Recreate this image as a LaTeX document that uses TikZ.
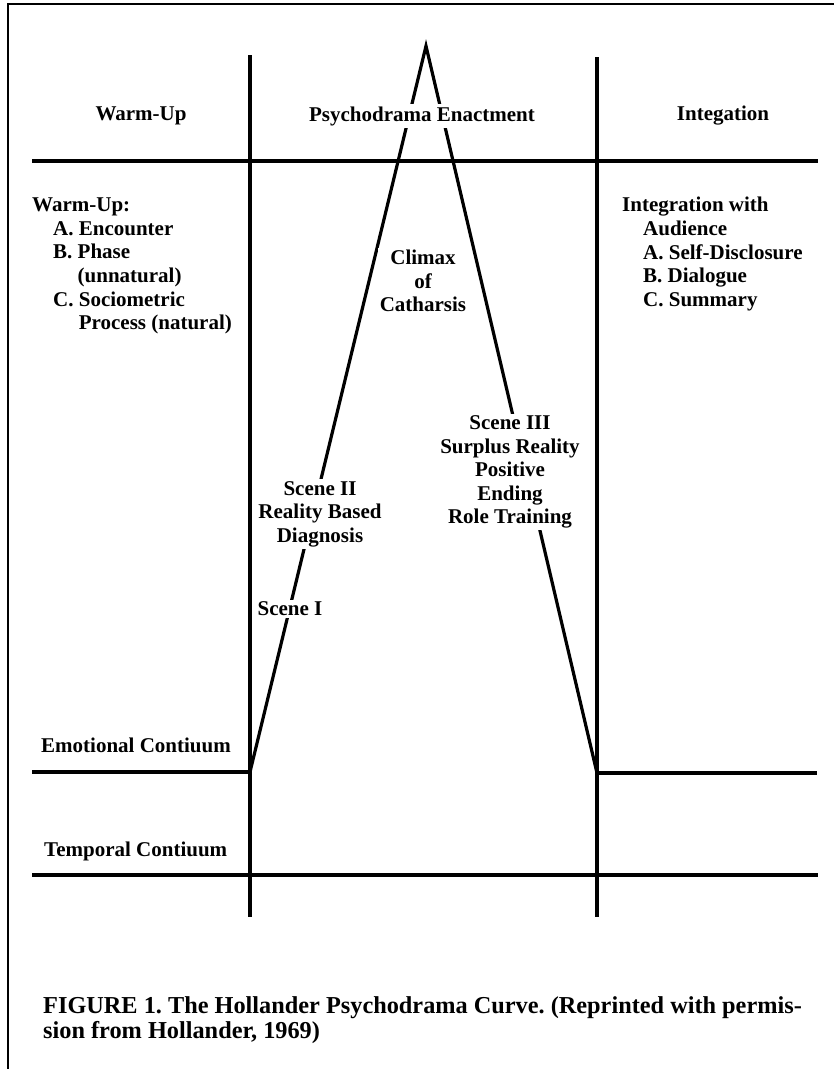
\documentclass[tikz,border=0pt]{standalone}
\usepackage{fontspec}
\setmainfont{Liberation Serif}
\usetikzlibrary{positioning}
\frenchspacing

\tikzset{
	txt/.style={font=\fontsize{21}{23.6}\selectfont\bfseries, inner sep=2pt},
	mask/.style={txt, fill=white, align=center},
	rule/.style={line width=3.2pt},
	frame/.style={line width=1.4pt}
}

\begin{document}
\begin{tikzpicture}[x=1pt, y=-1pt]
	\useasboundingbox (0,0) rectangle (834,1069);
	% page frame
	\draw [frame] (834,4) -- (8,4) -- (8,1069);
	% grid
	\coordinate (apex)   at (426,46);
	\coordinate (baseL)  at (250,772);
	\coordinate (baseR)  at (597,773);
	\coordinate (splitL) at (250,55);
	\coordinate (splitR) at (597,57);
	\coordinate (footL)  at (250,917);
	\coordinate (footR)  at (597,917);
	\draw [rule] (splitL) -- (footL);
	\draw [rule] (splitR) -- (footR);
	\draw [rule] (32,161) -- (818,161);
	\draw [rule] (32,772) -- (baseL);
	\draw [rule] (baseR) -- (817,773);
	\draw [rule] (32,875) -- (818,875);
	% the curve
	\draw [rule, line join=miter] (baseL) -- (apex) -- (baseR);
	% headings
	\node [mask] (warmup) at (141,116) {Warm-Up};
	\node [mask] (enact)  at (422,116) {Psychodrama Enactment};
	\node [mask] (integ)  at (723,116) {Integation};
	% phase contents
	\node [txt, align=left, anchor=west] (warmlist) at (30,266)
		{Warm-Up:\\
		 \hspace*{1em}A. Encounter\\
		 \hspace*{1em}B. Phase\\
		 \hspace*{1em}\phantom{B. }(unnatural)\\
		 \hspace*{1em}C. Sociometric\\
		 \hspace*{1em}\phantom{C. }Process (natural)};
	\node [txt, align=left, anchor=west] (integlist) at (620,254)
		{Integration with\\
		 \hspace*{1em}Audience\\
		 \hspace*{1em}A. Self-Disclosure\\
		 \hspace*{1em}B. Dialogue\\
		 \hspace*{1em}C. Summary};
	\node [mask] (climax) at (423,281) {Climax\\of\\Catharsis};
	\node [mask] (scene2) at (320,514) {Scene II\\Reality Based\\Diagnosis};
	\node [mask] (scene1) at (290,609) {Scene I};
	\node [mask] (scene3) at (510,472) {Scene III\\Surplus Reality\\Positive\\Ending\\Role Training};
	% continua
	\node [txt, anchor=west] (emo)  at (39,745) {Emotional Contiuum};
	\node [txt, anchor=west] (temp) at (42,851) {Temporal Contiuum};
	% caption
	\node [txt, font=\fontsize{24.3}{25}\selectfont\bfseries, align=left, anchor=west] (caption) at (41,1020)
		{FIGURE 1. The Hollander Psychodrama Curve. (Reprinted with permis-\\sion from Hollander, 1969)};
\end{tikzpicture}
\end{document}
